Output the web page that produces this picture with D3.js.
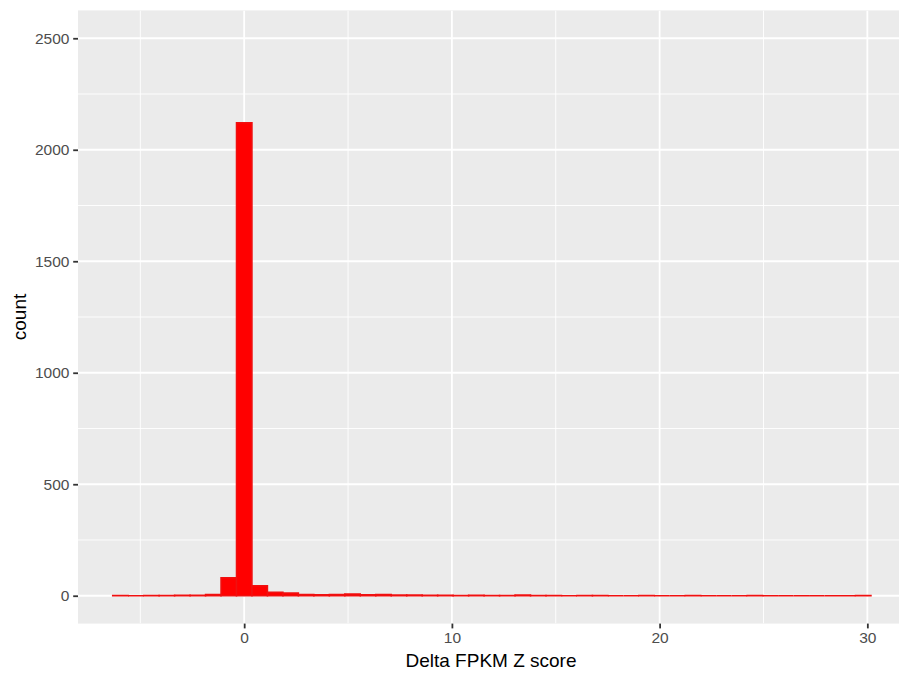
<!DOCTYPE html>
<html>
<head>
<meta charset="utf-8">
<script src="https://cdn.jsdelivr.net/npm/d3@7"></script>
<style>
  html, body { margin: 0; padding: 0; background: #ffffff; }
  svg { display: block; font-family: "Liberation Sans", Arial, Helvetica, sans-serif; }
</style>
</head>
<body>
<svg id="chart" width="899" height="673"></svg>
<script>
// Histogram of Delta FPKM Z scores: equal-width bins starting at binStart
const binStart = -6.33;
const binWidth = 0.745;
const counts = [
  1, 0, 1, 1, 2, 2, 5, 81, 2121, 45,
  16, 12, 5, 4, 5, 8, 4, 5, 3, 3,
  2, 2, 1, 2, 1, 1, 3, 1, 1, 0,
  1, 1, 0, 0, 1, 0, 0, 1, 0, 0,
  0, 1, 0, 0, 0, 0, 0, 0, 1
];
const xTicks = [0, 10, 20, 30];
const xMinor = [-5, 5, 15, 25];
const yTicks = [0, 500, 1000, 1500, 2000, 2500];
const yMinor = [250, 750, 1250, 1750, 2250];
const xTitle = "Delta FPKM Z score";
const yTitle = "count";

const bins = counts.map((c, i) => ({
  x0: binStart + i * binWidth,
  x1: binStart + (i + 1) * binWidth,
  count: c
}));

const panel = { left: 78, top: 10.4, bottom: 623.6, right: 899 };

const x = d3.scaleLinear().domain([-8, 32.15]).range([78, 912]);
const y = d3.scaleLinear().domain([-125, 2625]).range([panel.bottom, panel.top]);

const svg = d3.select("#chart");

svg.append("defs").append("clipPath").attr("id", "panel-clip")
  .append("rect")
  .attr("x", panel.left).attr("y", panel.top)
  .attr("width", panel.right - panel.left)
  .attr("height", panel.bottom - panel.top);

// panel background
svg.append("rect")
  .attr("x", panel.left).attr("y", panel.top)
  .attr("width", panel.right - panel.left)
  .attr("height", panel.bottom - panel.top)
  .attr("fill", "#EBEBEB");

const grid = svg.append("g").attr("clip-path", "url(#panel-clip)");

// minor grid
grid.selectAll("line.xminor").data(xMinor).join("line")
  .attr("x1", d => x(d)).attr("x2", d => x(d))
  .attr("y1", panel.top).attr("y2", panel.bottom)
  .attr("stroke", "#ffffff").attr("stroke-width", 0.9);
grid.selectAll("line.yminor").data(yMinor).join("line")
  .attr("x1", panel.left).attr("x2", panel.right)
  .attr("y1", d => y(d)).attr("y2", d => y(d))
  .attr("stroke", "#ffffff").attr("stroke-width", 0.9);

// major grid
grid.selectAll("line.xmajor").data(xTicks).join("line")
  .attr("x1", d => x(d)).attr("x2", d => x(d))
  .attr("y1", panel.top).attr("y2", panel.bottom)
  .attr("stroke", "#ffffff").attr("stroke-width", 1.8);
grid.selectAll("line.ymajor").data(yTicks).join("line")
  .attr("x1", panel.left).attr("x2", panel.right)
  .attr("y1", d => y(d)).attr("y2", d => y(d))
  .attr("stroke", "#ffffff").attr("stroke-width", 1.8);

// histogram bars as closed paths, so empty bins still show their outline
grid.append("g").selectAll("path").data(bins).join("path")
  .attr("d", d => {
    const p = d3.path();
    p.moveTo(x(d.x0), y(0));
    p.lineTo(x(d.x0), y(d.count));
    p.lineTo(x(d.x1), y(d.count));
    p.lineTo(x(d.x1), y(0));
    p.closePath();
    return p.toString();
  })
  .attr("fill", "#FF0000")
  .attr("stroke", "#F01010")
  .attr("stroke-width", 1.5)
  .attr("stroke-linejoin", "miter");

// x axis
const xAxis = d3.axisBottom(x).tickValues(xTicks).tickSize(4.8).tickPadding(3.5).tickFormat(d3.format("d"));
const gx = svg.append("g").attr("transform", `translate(0,${panel.bottom})`).call(xAxis);
gx.select(".domain").remove();
gx.selectAll(".tick line").attr("stroke", "#333333").attr("stroke-width", 1.8);
gx.selectAll(".tick text").attr("fill", "#4D4D4D").attr("font-size", "15.5px")
  .attr("font-family", "Liberation Sans, Arial, sans-serif");

// y axis
const yAxis = d3.axisLeft(y).tickValues(yTicks).tickSize(4.8).tickPadding(3.8).tickFormat(d3.format("d"));
const gy = svg.append("g").attr("transform", `translate(${panel.left},0)`).call(yAxis);
gy.select(".domain").remove();
gy.selectAll(".tick line").attr("stroke", "#333333").attr("stroke-width", 1.8);
gy.selectAll(".tick text").attr("fill", "#4D4D4D").attr("font-size", "15.5px")
  .attr("font-family", "Liberation Sans, Arial, sans-serif");

// axis titles
svg.append("text")
  .attr("x", 491).attr("y", 667)
  .attr("text-anchor", "middle")
  .attr("font-size", "19px")
  .attr("fill", "#000000")
  .text(xTitle);

svg.append("text")
  .attr("transform", `translate(26,${(panel.top + panel.bottom) / 2}) rotate(-90)`)
  .attr("text-anchor", "middle")
  .attr("font-size", "19px")
  .attr("fill", "#000000")
  .text(yTitle);
</script>
</body>
</html>
